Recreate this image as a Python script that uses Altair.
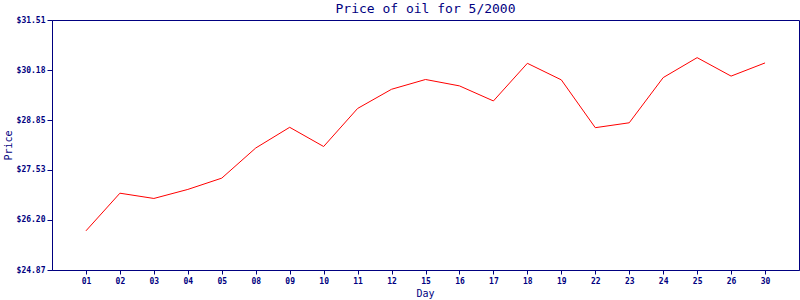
import altair as alt
import pandas as pd

days = ["01", "02", "03", "04", "05", "08", "09", "10", "11", "12", "15",
        "16", "17", "18", "19", "22", "23", "24", "25", "26", "30"]
prices = [25.91, 26.91, 26.77, 27.01, 27.31, 28.11, 28.66, 28.15, 29.16, 29.67, 29.93,
          29.76, 29.36, 30.36, 29.92, 28.65, 28.78, 29.98, 30.51, 30.02, 30.37]
y_ticks = [24.87, 26.20, 27.53, 28.85, 30.18, 31.51]

df = pd.DataFrame({"Day": days, "Price": prices})

NAVY = "#000080"
FONT = "DejaVu Sans Mono"

chart = alt.Chart(df).mark_line(color="#ff0000", strokeWidth=1).encode(
    x=alt.X("Day:N", sort=days,
            scale=alt.Scale(type="point", padding=1),
            axis=alt.Axis(title="Day", labelAngle=0, tickSize=4, labelPadding=3,
                          titleX=373, titleY=23, titleAlign="center", titleBaseline="middle")),
    y=alt.Y("Price:Q",
            scale=alt.Scale(domain=[24.87, 31.51], nice=False, zero=False),
            axis=alt.Axis(title="Price", values=y_ticks, format="$.2f", tickSize=5,
                          labelPadding=2, titleX=-44, titleY=125, titleAngle=-90,
                          titleAlign="center", titleBaseline="middle")),
).properties(
    width=747, height=250,
    background="white",
    title=alt.TitleParams("Price of oil for 5/2000", anchor="middle", offset=0,
                          font=FONT, fontSize=13, fontWeight="normal", color=NAVY),
    padding={"left": 52, "top": 20, "right": 1, "bottom": 30},
    autosize=alt.AutoSizeParams(type="none"),
).configure_view(
    stroke=NAVY, strokeWidth=1
).configure_axis(
    grid=False, domainColor=NAVY, tickColor=NAVY, labelColor=NAVY, titleColor=NAVY,
    labelFont=FONT, titleFont=FONT, labelFontSize=8, labelFontWeight="bold",
    titleFontSize=10, titleFontWeight="normal", domainWidth=1, tickWidth=1
)

chart.save("out.html", embed_options={"renderer": "svg", "actions": False})
